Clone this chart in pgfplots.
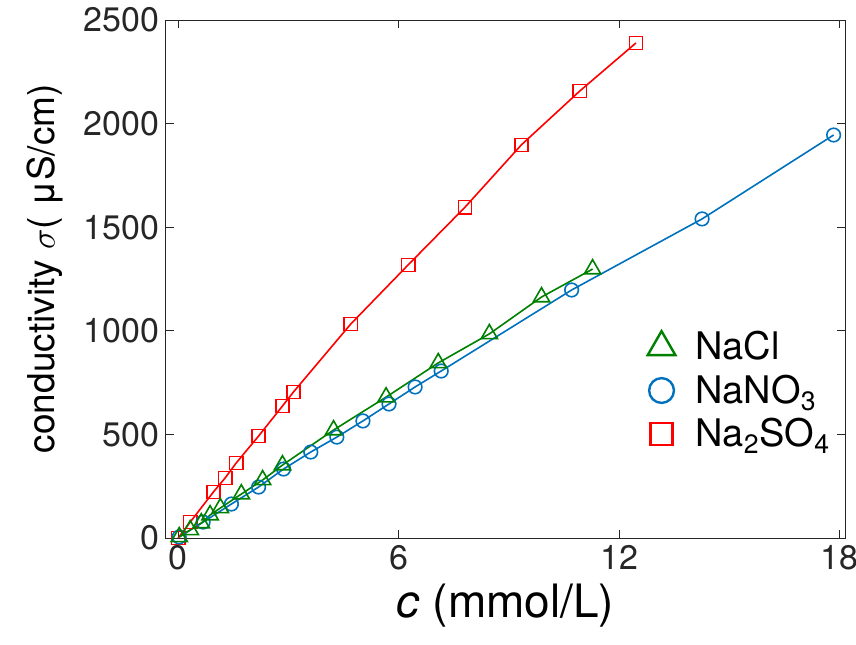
\documentclass[border=0pt]{standalone}
\usepackage{fontspec}
\setmainfont{TeX Gyre Heros}
\usepackage{pgfplots}
\pgfplotsset{compat=1.18}
\definecolor{mgreen}{rgb}{0,0.5,0}
\definecolor{mblue}{rgb}{0,0.447,0.741}
\definecolor{mred}{rgb}{1,0,0}
\definecolor{axgray}{rgb}{0.15,0.15,0.15}
\begin{document}
\begin{tikzpicture}
\begin{axis}[
  scale only axis, width=339.5pt, height=259pt,
  xmin=-0.33, xmax=18.15, ymin=0, ymax=2500,
  xtick={0,6,12,18}, ytick={0,500,1000,1500,2000,2500},
  tick align=inside, major tick length=4pt,
  axis line style={axgray, line width=0.5pt},
  every tick/.style={axgray, line width=0.5pt},
  tick label style={font=\fontsize{17}{20}\selectfont, text=axgray},
  /pgf/number format/assume math mode=true,
  /pgf/number format/1000 sep={},
  xlabel style={font=\fontsize{23}{27}\selectfont, at={(axis description cs:0.5,-0.13)}, anchor=center},
  ylabel style={font=\fontsize{18.5}{22}\selectfont, at={(axis description cs:-0.178,0.52)}, anchor=center},
  xlabel={\textit{c} (mmol/L)},
  ylabel={conductivity $\sigma$( μS/cm)},
  legend cell align=left,
  legend style={at={(0.70,0.415)}, anchor=north west, draw=none, fill=none,
    font=\fontsize{19}{22}\selectfont, row sep=2pt},
]
\addplot[mred, line width=0.8pt, mark=square, mark size=3.3pt, forget plot] coordinates {
(0,0) (0.33,77) (0.96,222) (1.28,290) (1.58,362) (2.19,492) (2.84,637) (3.14,705)
(4.70,1033) (6.26,1318) (7.81,1597) (9.34,1897) (10.93,2157) (12.46,2389)};
\addplot[mblue, line width=0.8pt, mark=o, mark size=3.4pt, forget plot] coordinates {
(0.03,5) (0.68,77) (1.45,164) (2.19,246) (2.87,333) (3.61,415) (4.32,487) (5.03,565)
(5.74,647) (6.45,729) (7.16,806) (10.71,1197) (14.26,1540) (17.84,1945)};
\addplot[mgreen, line width=0.8pt, mark=triangle, mark size=4.7pt, forget plot] coordinates {
(0.03,5) (0.33,39) (0.63,72) (0.87,111) (1.15,145) (1.72,212) (2.30,280) (2.84,352)
(4.23,521) (5.66,680) (7.08,845) (8.47,985) (9.89,1163) (11.28,1298)};
\addlegendimage{only marks, mgreen, mark=triangle, mark size=8pt, line width=1.2pt}
\addlegendentry{\hspace{8pt}NaCl}
\addlegendimage{only marks, mblue, mark=o, mark size=6.2pt, line width=1.2pt}
\addlegendentry{\hspace{8pt}NaNO\textsubscript{3}}
\addlegendimage{only marks, mred, mark=square, mark size=5.5pt, line width=1.2pt}
\addlegendentry{\hspace{8pt}Na\textsubscript{2}SO\textsubscript{4}}
\end{axis}
\pgfresetboundingbox
\path (current axis.south west) ++(-83pt,-53pt) coordinate (bbl);
\path (current axis.north east) ++(5.5pt,10pt) coordinate (btr);
\useasboundingbox (bbl) rectangle (btr);
\end{tikzpicture}
\end{document}
